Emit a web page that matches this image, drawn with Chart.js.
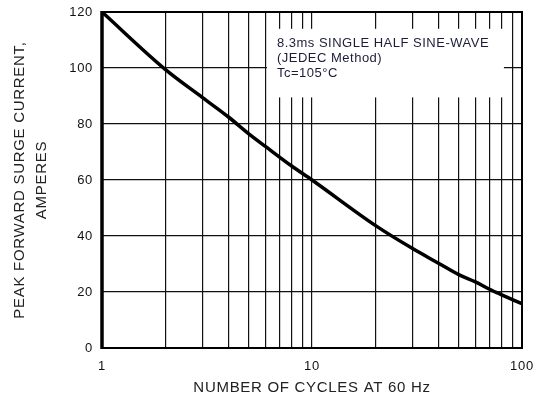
<!DOCTYPE html>
<html>
<head>
<meta charset="utf-8">
<script src="https://cdn.jsdelivr.net/npm/chart.js@4/dist/chart.umd.min.js"></script>
<style>
  body { margin: 0; background: #fff; }
  #wrap { width: 541px; height: 401px; position: relative; }
</style>
</head>
<body>
<div id="wrap"><canvas id="c"></canvas></div>
<script>
// surge curve
const cycles = [1, 2, 3, 4, 5, 6, 8, 10, 20, 30, 40, 50, 60, 70, 80, 90, 100];
const amperes = [120, 99.5, 89.5, 82.5, 76.5, 72, 65, 60, 43.8, 35.6, 30.3, 26.2, 23.6, 21, 19, 17.3, 15.8];

const xTicks = [1, 2, 3, 4, 5, 6, 7, 8, 9, 10, 20, 30, 40, 50, 60, 70, 80, 90, 100];
const xLabels = { 1: '1', 10: '10', 100: '100' };
const yTicks = [0, 20, 40, 60, 80, 100, 120];

const noteLines = ['8.3ms SINGLE HALF SINE-WAVE', '(JEDEC Method)', 'Tc=105\u00B0C'];

const FONT = "'Liberation Sans', Arial, sans-serif";

// the scanned labels are a bit wider than plain Arial
const spacing = {
    id: 'spacing',
    beforeUpdate(chart) { chart.ctx.letterSpacing = '0.7px'; },
    beforeDraw(chart) { chart.ctx.letterSpacing = '0.7px'; }
};

// white note box + frame
const extras = {
    id: 'extras',
    beforeDatasetsDraw(chart) {
        const { ctx, chartArea: a, scales: { x, y } } = chart;
        ctx.save();
        // note box sits over the grid
        const left = x.getPixelForValue(6.1), right = x.getPixelForValue(82);
        const top = y.getPixelForValue(114), bottom = y.getPixelForValue(89.5);
        ctx.fillStyle = '#fff';
        ctx.fillRect(left, top, right - left, bottom - top);
        ctx.fillStyle = '#1c1c38';
        ctx.font = '13px ' + FONT;
        ctx.letterSpacing = '0.5px';
        ctx.textBaseline = 'middle';
        noteLines.forEach((t, i) => ctx.fillText(t, left + 10, top + 15 + i * 15));
        // frame
        ctx.strokeStyle = '#000';
        ctx.lineWidth = 2;
        ctx.strokeRect(a.left, a.top, a.right - a.left, a.bottom - a.top);
        ctx.lineWidth = 3.5;
        ctx.beginPath();
        ctx.moveTo(a.left, a.top - 1);
        ctx.lineTo(a.left, a.bottom + 1);
        ctx.stroke();
        ctx.restore();
    }
};

new Chart(document.getElementById('c'), {
    type: 'line',
    data: {
        datasets: [{
            data: cycles.map((c, i) => ({ x: c, y: amperes[i] })),
            borderColor: '#000',
            borderWidth: 3.5,
            pointRadius: 0,
            cubicInterpolationMode: 'monotone',
            fill: false
        }]
    },
    options: {
        responsive: true,
        maintainAspectRatio: false,
        animation: false,
        layout: { padding: { top: 12, right: 19 } },
        plugins: { legend: { display: false }, tooltip: { enabled: false } },
        scales: {
            x: {
                type: 'logarithmic',
                min: 1,
                max: 100,
                afterBuildTicks: s => { s.ticks = xTicks.map(v => ({ value: v })); },
                afterFit: s => { s.height = 53; s.paddingLeft = 0; s.paddingRight = 0; },
                grid: { color: '#111', lineWidth: 1.2, drawTicks: false },
                border: { display: false },
                ticks: {
                    autoSkip: false,
                    maxRotation: 0,
                    padding: 11,
                    color: '#111',
                    font: { family: FONT, size: 13 },
                    callback: v => xLabels[v] || ''
                },
                title: {
                    display: true,
                    text: 'NUMBER OF CYCLES AT 60 Hz',
                    color: '#222',
                    font: { family: FONT, size: 15 },
                    padding: { top: 1 }
                }
            },
            y: {
                min: 0,
                max: 120,
                afterBuildTicks: s => { s.ticks = yTicks.map(v => ({ value: v })); },
                afterFit: s => { s.width = 102; s.paddingTop = 0; s.paddingBottom = 0; },
                grid: { color: '#111', lineWidth: 1.2, drawTicks: false },
                border: { display: false },
                ticks: {
                    padding: 9,
                    color: '#111',
                    font: { family: FONT, size: 13 }
                },
                title: {
                    display: true,
                    text: ['PEAK FORWARD SURGE CURRENT,', 'AMPERES'],
                    color: '#222',
                    font: { family: FONT, size: 15, lineHeight: 1.45 },
                    padding: { top: 9, bottom: 0 }
                }
            }
        }
    },
    plugins: [spacing, extras]
});
</script>
</body>
</html>
